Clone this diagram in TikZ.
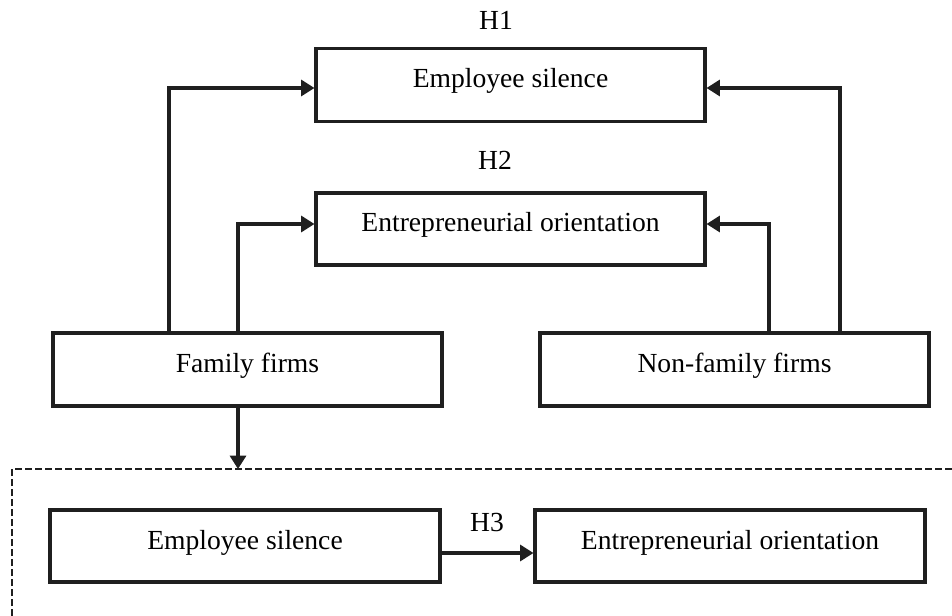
\documentclass[tikz,border=0pt]{standalone}
\usepackage{fontspec}
\setmainfont{Liberation Serif}
\usetikzlibrary{arrows.meta}
\begin{document}
\begin{tikzpicture}[x=0.75pt,y=-0.75pt,
  box/.style={draw=black!88,line width=2.3pt,inner sep=0pt,text height=14pt,text depth=9.5pt,font=\fontsize{20.7}{24}\selectfont},
  conn/.style={draw=black!88,line width=2.3pt,-{Triangle[length=10pt,width=12pt]}},
  hlabel/.style={font=\fontsize{20.7}{24}\selectfont,inner sep=0pt},
  frame/.style={draw=black!88,line width=1.4pt,dash pattern=on 5pt off 2.5pt}]
\useasboundingbox (0,0) rectangle (952,616);
% top boxes
\node[box,minimum width=389*0.75pt,minimum height=73*0.75pt] (es) at (510.5,85) {Employee silence};
\node[box,minimum width=389*0.75pt,minimum height=72*0.75pt] (eo) at (510.5,229) {Entrepreneurial orientation};
\node[hlabel] (h1) at (496,20) {H1};
\node[hlabel] (h2) at (495,160) {H2};
% firms
\node[box,minimum width=389*0.75pt,minimum height=73*0.75pt] (ff) at (247.5,369.5) {Family firms};
\node[box,minimum width=389*0.75pt,minimum height=73*0.75pt] (nf) at (734.5,369.5) {Non-family firms};
% dashed frame (cropped at the right and bottom)
\coordinate (fbl) at (12,616);
\coordinate (ftl) at (12,469);
\coordinate (ftr) at (952,469);
\coordinate (ftop) at (238,469);
\draw[frame] (fbl) -- (ftl) -- (ftr);
% bottom boxes
\node[box,minimum width=390*0.75pt,minimum height=72*0.75pt] (bes) at (245,546) {Employee silence};
\node[box,minimum width=390*0.75pt,minimum height=72*0.75pt] (beo) at (730,546) {Entrepreneurial orientation};
\node[hlabel] (h3) at (487,522) {H3};
% connectors
\draw[conn] (169,333) |- (es.west |- 0,88);
\draw[conn] (238,333) |- (eo.west |- 0,224);
\draw[conn] (769,333) |- (eo.east |- 0,224);
\draw[conn] (840,333) |- (es.east |- 0,88);
\draw[conn] (ff.south -| 238,0) -- (ftop);
\draw[conn] (bes.east |- 0,553) -- (beo.west |- 0,553);
\end{tikzpicture}
\end{document}
